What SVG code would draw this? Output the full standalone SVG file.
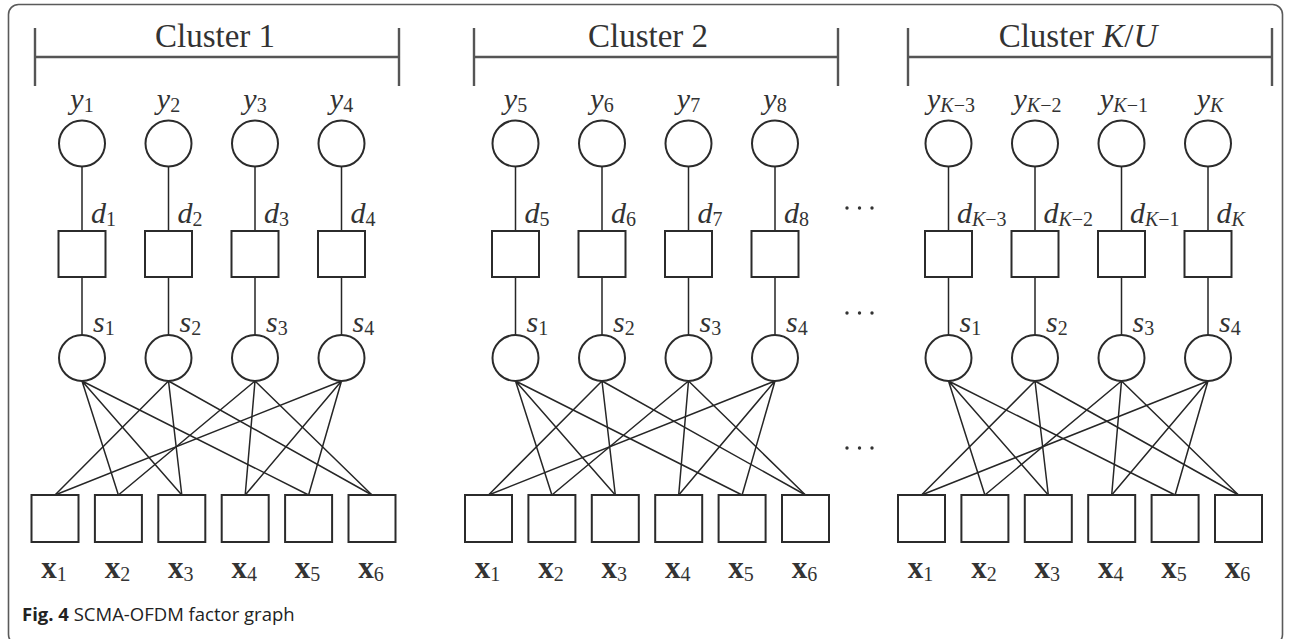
<svg xmlns="http://www.w3.org/2000/svg" width="1289" height="639" viewBox="0 0 1289 639">
  <defs>
    <style>
      .frame { fill: none; stroke: #5a5a5a; stroke-width: 1.6; }
      .bracket { fill: none; stroke: #555; stroke-width: 2.4; }
      .node { fill: #fff; stroke: #2b2b2b; stroke-width: 2; }
      .edge { stroke: #262626; stroke-width: 1.5; fill: none; }
      .title { font-family: "Liberation Serif", serif; font-size: 33px; fill: #333; text-anchor: middle; }
      .var { font-family: "Liberation Serif", serif; font-size: 30px; fill: #333; font-style: italic; }
      .vec { font-family: "Liberation Serif", serif; font-size: 31px; fill: #333; font-weight: bold; text-anchor: middle; }
      .sub { font-size: 20px; font-style: normal; font-weight: normal; }
      .subi { font-size: 20px; font-style: italic; font-weight: normal; }
      .mid { text-anchor: middle; }
      .dots { fill: #333; }
      .caption { font-family: "Open Sans", "Noto Sans", sans-serif; font-size: 18.5px; fill: #222; }
    </style>
  </defs>

  <rect class="frame" x="8.5" y="4.5" width="1274" height="640" rx="10"/>

  <!-- cluster brackets and titles -->
  <g id="cluster-headers">
    <path class="bracket" d="M35 57H399M35 28V86M399 28V86"/>
    <text class="title" x="215" y="47">Cluster 1</text>
    <path class="bracket" d="M474 57H838M474 28V86M838 28V86"/>
    <text class="title" x="648" y="47">Cluster 2</text>
    <path class="bracket" d="M908 57H1272M908 28V86M1272 28V86"/>
    <text class="title" x="1078" y="47">Cluster <tspan font-style="italic">K</tspan>/<tspan font-style="italic">U</tspan></text>
  </g>

  <!-- connectors -->
  <g id="connectors" class="edge">
    <!-- cluster 1: vertical chains -->
    <path d="M82 166.5V231M82 277V335M168.5 166.5V231M168.5 277V335M255 166.5V231M255 277V335M341.5 166.5V231M341.5 277V335"/>
    <!-- cluster 1: resource-to-user edges -->
    <path d="M82 381L118.4 495M82 381L181.8 495M82 381L308.6 495"/>
    <path d="M168.5 381L55 495M168.5 381L181.8 495M168.5 381L372 495"/>
    <path d="M255 381L118.4 495M255 381L245.2 495M255 381L372 495"/>
    <path d="M341.5 381L55 495M341.5 381L245.2 495M341.5 381L308.6 495"/>
    <!-- cluster 2 -->
    <path d="M515.5 166.5V231M515.5 277V335M602 166.5V231M602 277V335M688.5 166.5V231M688.5 277V335M775 166.5V231M775 277V335"/>
    <path d="M515.5 381L551.9 495M515.5 381L615.3 495M515.5 381L742.1 495"/>
    <path d="M602 381L488.5 495M602 381L615.3 495M602 381L805.5 495"/>
    <path d="M688.5 381L551.9 495M688.5 381L678.7 495M688.5 381L805.5 495"/>
    <path d="M775 381L488.5 495M775 381L678.7 495M775 381L742.1 495"/>
    <!-- cluster K/U -->
    <path d="M948.5 166.5V231M948.5 277V335M1035 166.5V231M1035 277V335M1121.5 166.5V231M1121.5 277V335M1208 166.5V231M1208 277V335"/>
    <path d="M948.5 381L984.9 495M948.5 381L1048.3 495M948.5 381L1175.1 495"/>
    <path d="M1035 381L921.5 495M1035 381L1048.3 495M1035 381L1238.5 495"/>
    <path d="M1121.5 381L984.9 495M1121.5 381L1111.7 495M1121.5 381L1238.5 495"/>
    <path d="M1208 381L921.5 495M1208 381L1111.7 495M1208 381L1175.1 495"/>
  </g>

  <!-- ===== Cluster 1 ===== -->
  <g id="c1-y1"><circle class="node" cx="82" cy="143.5" r="23"/><text class="var mid" x="82" y="109">y<tspan class="sub" dy="3">1</tspan></text></g>
  <g id="c1-y2"><circle class="node" cx="168.5" cy="143.5" r="23"/><text class="var mid" x="168.5" y="109">y<tspan class="sub" dy="3">2</tspan></text></g>
  <g id="c1-y3"><circle class="node" cx="255" cy="143.5" r="23"/><text class="var mid" x="255" y="109">y<tspan class="sub" dy="3">3</tspan></text></g>
  <g id="c1-y4"><circle class="node" cx="341.5" cy="143.5" r="23"/><text class="var mid" x="341.5" y="109">y<tspan class="sub" dy="3">4</tspan></text></g>

  <g id="c1-d1"><rect class="node" x="58.5" y="231" width="47" height="46"/><text class="var" x="91" y="223">d<tspan class="sub" dy="3">1</tspan></text></g>
  <g id="c1-d2"><rect class="node" x="145" y="231" width="47" height="46"/><text class="var" x="177.5" y="223">d<tspan class="sub" dy="3">2</tspan></text></g>
  <g id="c1-d3"><rect class="node" x="231.5" y="231" width="47" height="46"/><text class="var" x="264" y="223">d<tspan class="sub" dy="3">3</tspan></text></g>
  <g id="c1-d4"><rect class="node" x="318" y="231" width="47" height="46"/><text class="var" x="350.5" y="223">d<tspan class="sub" dy="3">4</tspan></text></g>

  <g id="c1-s1"><circle class="node" cx="82" cy="358" r="23"/><text class="var" x="93" y="332">s<tspan class="sub" dy="3">1</tspan></text></g>
  <g id="c1-s2"><circle class="node" cx="168.5" cy="358" r="23"/><text class="var" x="179.5" y="332">s<tspan class="sub" dy="3">2</tspan></text></g>
  <g id="c1-s3"><circle class="node" cx="255" cy="358" r="23"/><text class="var" x="266" y="332">s<tspan class="sub" dy="3">3</tspan></text></g>
  <g id="c1-s4"><circle class="node" cx="341.5" cy="358" r="23"/><text class="var" x="352.5" y="332">s<tspan class="sub" dy="3">4</tspan></text></g>

  <g id="c1-x1"><rect class="node" x="31.5" y="495" width="47" height="47"/><text class="vec" x="54" y="578">x<tspan class="sub" dy="3">1</tspan></text></g>
  <g id="c1-x2"><rect class="node" x="94.9" y="495" width="47" height="47"/><text class="vec" x="117.4" y="578">x<tspan class="sub" dy="3">2</tspan></text></g>
  <g id="c1-x3"><rect class="node" x="158.3" y="495" width="47" height="47"/><text class="vec" x="180.8" y="578">x<tspan class="sub" dy="3">3</tspan></text></g>
  <g id="c1-x4"><rect class="node" x="221.7" y="495" width="47" height="47"/><text class="vec" x="244.2" y="578">x<tspan class="sub" dy="3">4</tspan></text></g>
  <g id="c1-x5"><rect class="node" x="285.1" y="495" width="47" height="47"/><text class="vec" x="307.6" y="578">x<tspan class="sub" dy="3">5</tspan></text></g>
  <g id="c1-x6"><rect class="node" x="348.5" y="495" width="47" height="47"/><text class="vec" x="371" y="578">x<tspan class="sub" dy="3">6</tspan></text></g>

  <!-- ===== Cluster 2 ===== -->
  <g id="c2-y5"><circle class="node" cx="515.5" cy="143.5" r="23"/><text class="var mid" x="515.5" y="109">y<tspan class="sub" dy="3">5</tspan></text></g>
  <g id="c2-y6"><circle class="node" cx="602" cy="143.5" r="23"/><text class="var mid" x="602" y="109">y<tspan class="sub" dy="3">6</tspan></text></g>
  <g id="c2-y7"><circle class="node" cx="688.5" cy="143.5" r="23"/><text class="var mid" x="688.5" y="109">y<tspan class="sub" dy="3">7</tspan></text></g>
  <g id="c2-y8"><circle class="node" cx="775" cy="143.5" r="23"/><text class="var mid" x="775" y="109">y<tspan class="sub" dy="3">8</tspan></text></g>

  <g id="c2-d5"><rect class="node" x="492" y="231" width="47" height="46"/><text class="var" x="524.5" y="223">d<tspan class="sub" dy="3">5</tspan></text></g>
  <g id="c2-d6"><rect class="node" x="578.5" y="231" width="47" height="46"/><text class="var" x="611" y="223">d<tspan class="sub" dy="3">6</tspan></text></g>
  <g id="c2-d7"><rect class="node" x="665" y="231" width="47" height="46"/><text class="var" x="697.5" y="223">d<tspan class="sub" dy="3">7</tspan></text></g>
  <g id="c2-d8"><rect class="node" x="751.5" y="231" width="47" height="46"/><text class="var" x="784" y="223">d<tspan class="sub" dy="3">8</tspan></text></g>

  <g id="c2-s1"><circle class="node" cx="515.5" cy="358" r="23"/><text class="var" x="526.5" y="332">s<tspan class="sub" dy="3">1</tspan></text></g>
  <g id="c2-s2"><circle class="node" cx="602" cy="358" r="23"/><text class="var" x="613" y="332">s<tspan class="sub" dy="3">2</tspan></text></g>
  <g id="c2-s3"><circle class="node" cx="688.5" cy="358" r="23"/><text class="var" x="699.5" y="332">s<tspan class="sub" dy="3">3</tspan></text></g>
  <g id="c2-s4"><circle class="node" cx="775" cy="358" r="23"/><text class="var" x="786" y="332">s<tspan class="sub" dy="3">4</tspan></text></g>

  <g id="c2-x1"><rect class="node" x="465" y="495" width="47" height="47"/><text class="vec" x="487.5" y="578">x<tspan class="sub" dy="3">1</tspan></text></g>
  <g id="c2-x2"><rect class="node" x="528.4" y="495" width="47" height="47"/><text class="vec" x="550.9" y="578">x<tspan class="sub" dy="3">2</tspan></text></g>
  <g id="c2-x3"><rect class="node" x="591.8" y="495" width="47" height="47"/><text class="vec" x="614.3" y="578">x<tspan class="sub" dy="3">3</tspan></text></g>
  <g id="c2-x4"><rect class="node" x="655.2" y="495" width="47" height="47"/><text class="vec" x="677.7" y="578">x<tspan class="sub" dy="3">4</tspan></text></g>
  <g id="c2-x5"><rect class="node" x="718.6" y="495" width="47" height="47"/><text class="vec" x="741.1" y="578">x<tspan class="sub" dy="3">5</tspan></text></g>
  <g id="c2-x6"><rect class="node" x="782" y="495" width="47" height="47"/><text class="vec" x="804.5" y="578">x<tspan class="sub" dy="3">6</tspan></text></g>

  <!-- ellipses between clusters -->
  <g id="ellipsis" class="dots">
    <circle cx="847" cy="208" r="1.7"/><circle cx="859.5" cy="208" r="1.7"/><circle cx="872" cy="208" r="1.7"/>
    <circle cx="847" cy="313" r="1.7"/><circle cx="859.5" cy="313" r="1.7"/><circle cx="872" cy="313" r="1.7"/>
    <circle cx="847" cy="448" r="1.7"/><circle cx="859.5" cy="448" r="1.7"/><circle cx="872" cy="448" r="1.7"/>
  </g>

  <!-- ===== Cluster K/U ===== -->
  <g id="c3-yK-3"><circle class="node" cx="948.5" cy="143.5" r="23"/><text class="var mid" x="951" y="109">y<tspan class="subi" dy="3">K</tspan><tspan class="sub">−3</tspan></text></g>
  <g id="c3-yK-2"><circle class="node" cx="1035" cy="143.5" r="23"/><text class="var mid" x="1037.5" y="109">y<tspan class="subi" dy="3">K</tspan><tspan class="sub">−2</tspan></text></g>
  <g id="c3-yK-1"><circle class="node" cx="1121.5" cy="143.5" r="23"/><text class="var mid" x="1124" y="109">y<tspan class="subi" dy="3">K</tspan><tspan class="sub">−1</tspan></text></g>
  <g id="c3-yK"><circle class="node" cx="1208" cy="143.5" r="23"/><text class="var mid" x="1210" y="109">y<tspan class="subi" dy="3">K</tspan></text></g>

  <g id="c3-dK-3"><rect class="node" x="925" y="231" width="47" height="46"/><text class="var" x="957" y="223">d<tspan class="subi" dy="3">K</tspan><tspan class="sub">−3</tspan></text></g>
  <g id="c3-dK-2"><rect class="node" x="1011.5" y="231" width="47" height="46"/><text class="var" x="1043.5" y="223">d<tspan class="subi" dy="3">K</tspan><tspan class="sub">−2</tspan></text></g>
  <g id="c3-dK-1"><rect class="node" x="1098" y="231" width="47" height="46"/><text class="var" x="1130" y="223">d<tspan class="subi" dy="3">K</tspan><tspan class="sub">−1</tspan></text></g>
  <g id="c3-dK"><rect class="node" x="1184.5" y="231" width="47" height="46"/><text class="var" x="1216.5" y="223">d<tspan class="subi" dy="3">K</tspan></text></g>

  <g id="c3-s1"><circle class="node" cx="948.5" cy="358" r="23"/><text class="var" x="959.5" y="332">s<tspan class="sub" dy="3">1</tspan></text></g>
  <g id="c3-s2"><circle class="node" cx="1035" cy="358" r="23"/><text class="var" x="1046" y="332">s<tspan class="sub" dy="3">2</tspan></text></g>
  <g id="c3-s3"><circle class="node" cx="1121.5" cy="358" r="23"/><text class="var" x="1132.5" y="332">s<tspan class="sub" dy="3">3</tspan></text></g>
  <g id="c3-s4"><circle class="node" cx="1208" cy="358" r="23"/><text class="var" x="1219" y="332">s<tspan class="sub" dy="3">4</tspan></text></g>

  <g id="c3-x1"><rect class="node" x="898" y="495" width="47" height="47"/><text class="vec" x="920.5" y="578">x<tspan class="sub" dy="3">1</tspan></text></g>
  <g id="c3-x2"><rect class="node" x="961.4" y="495" width="47" height="47"/><text class="vec" x="983.9" y="578">x<tspan class="sub" dy="3">2</tspan></text></g>
  <g id="c3-x3"><rect class="node" x="1024.8" y="495" width="47" height="47"/><text class="vec" x="1047.3" y="578">x<tspan class="sub" dy="3">3</tspan></text></g>
  <g id="c3-x4"><rect class="node" x="1088.2" y="495" width="47" height="47"/><text class="vec" x="1110.7" y="578">x<tspan class="sub" dy="3">4</tspan></text></g>
  <g id="c3-x5"><rect class="node" x="1151.6" y="495" width="47" height="47"/><text class="vec" x="1174.1" y="578">x<tspan class="sub" dy="3">5</tspan></text></g>
  <g id="c3-x6"><rect class="node" x="1215" y="495" width="47" height="47"/><text class="vec" x="1237.5" y="578">x<tspan class="sub" dy="3">6</tspan></text></g>

  <!-- caption -->
  <text class="caption" x="22" y="621"><tspan font-weight="bold">Fig. 4</tspan> SCMA-OFDM factor graph</text>
</svg>
